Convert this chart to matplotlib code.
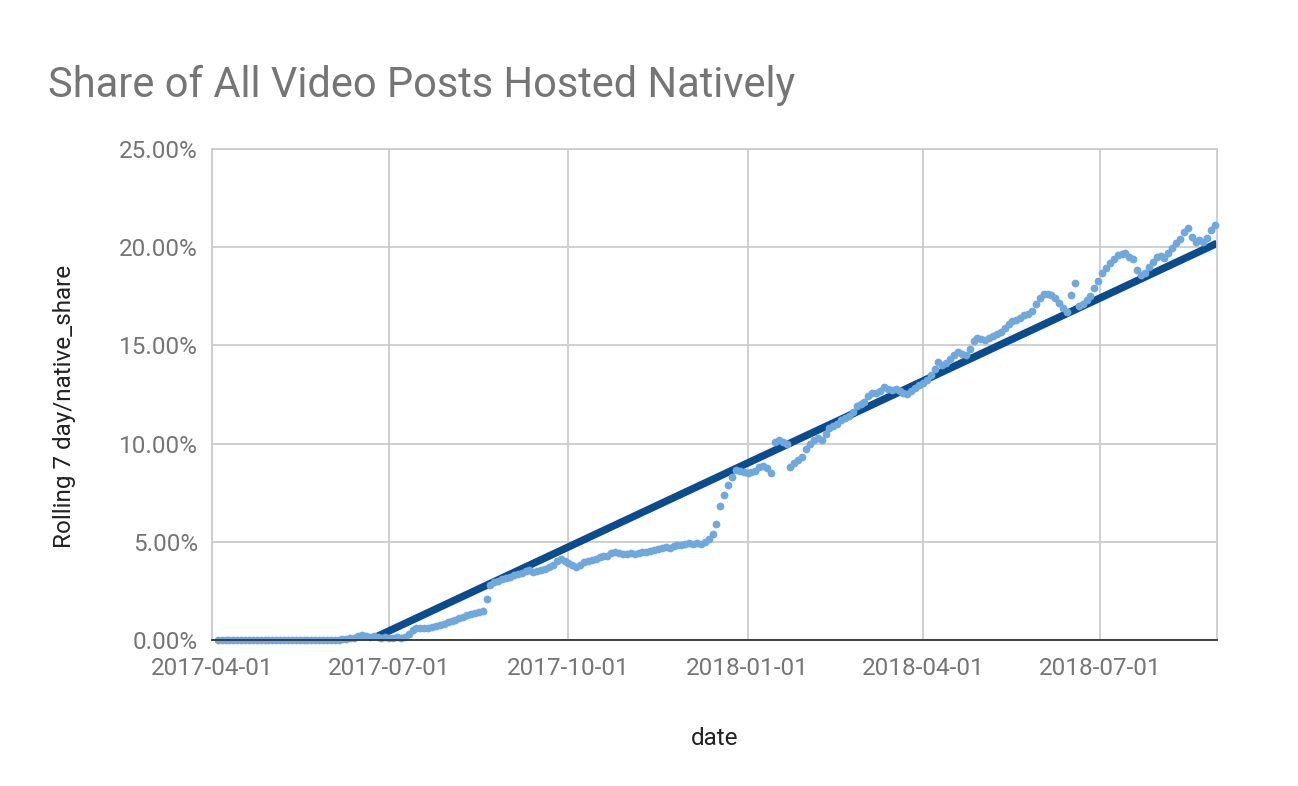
import numpy as np
import pandas as pd
from matplotlib import pyplot as plt
import matplotlib.dates as mdates
from matplotlib.ticker import FuncFormatter

plt.rcParams['font.family'] = ['Roboto', 'DejaVu Sans']

TITLE = 'Share of All Video Posts Hosted Natively'
X_LABEL = 'date'
Y_LABEL = 'Rolling 7 day/native_share'

# rolling 7 day native share (%), one reading every 2 days from first_day
first_day = '2017-04-04'
step_days = 2
native_share = [
    0.0, 0.0, 0.0, 0.0, 0.0, 0.0, 0.0, 0.0, 0.0, 0.0,
    0.0, 0.0, 0.0, 0.0, 0.0, 0.0, 0.0, 0.0, 0.0, 0.0,
    0.0, 0.0, 0.0, 0.0, 0.0, 0.0, 0.0, 0.0, 0.0, 0.0,
    0.0, 0.0, 0.05, 0.05, 0.1, 0.1, 0.2, 0.25, 0.2, 0.15,
    0.2, 0.15, 0.1, 0.15, 0.1, 0.1, 0.15, 0.1, 0.15, 0.3,
    0.5, 0.6, 0.6, 0.6, 0.6, 0.65, 0.7, 0.75, 0.8, 0.9,
    0.95, 1.0, 1.1, 1.15, 1.25, 1.3, 1.35, 1.4, 1.5, 2.1,
    2.8, 2.95, 3.0, 3.1, 3.15, 3.2, 3.3, 3.35, 3.4, 3.5,
    3.55, 3.45, 3.5, 3.55, 3.6, 3.7, 3.8, 4.0, 4.1, 4.0,
    3.9, 3.8, 3.7, 3.8, 3.95, 4.0, 4.05, 4.1, 4.2, 4.3,
    4.3, 4.45, 4.5, 4.45, 4.4, 4.4, 4.45, 4.4, 4.45, 4.5,
    4.5, 4.55, 4.6, 4.65, 4.7, 4.75, 4.7, 4.8, 4.85, 4.85,
    4.9, 4.95, 4.9, 4.95, 4.9, 5.0, 5.15, 5.4, 5.9, 6.8,
    7.4, 7.9, 8.3, 8.65, 8.6, 8.55, 8.5, 8.55, 8.6, 8.8,
    8.85, 8.75, 8.5, 10.1, 10.2, 10.1, 10.0, 8.8, 9.0, 9.15,
    9.3, 9.7, 10.0, 10.2, 10.3, 10.2, 10.5, 10.8, 10.9, 11.0,
    11.2, 11.3, 11.4, 11.6, 11.9, 12.0, 12.1, 12.4, 12.6, 12.6,
    12.7, 12.9, 12.8, 12.75, 12.8, 12.7, 12.6, 12.55, 12.7, 12.85,
    13.0, 13.1, 13.25, 13.5, 13.8, 14.15, 14.0, 14.1, 14.3, 14.5,
    14.65, 14.55, 14.5, 14.8, 15.2, 15.4, 15.35, 15.3, 15.4, 15.5,
    15.6, 15.7, 15.9, 16.1, 16.25, 16.3, 16.4, 16.55, 16.6, 16.75,
    17.1, 17.4, 17.6, 17.6, 17.55, 17.4, 17.15, 16.9, 16.7, 17.55,
    18.2, 17.0, 17.1, 17.3, 17.5, 17.9, 18.3, 18.7, 18.95, 19.2,
    19.4, 19.6, 19.65, 19.7, 19.5, 19.4, 18.85, 18.6, 18.7, 19.0,
    19.25, 19.5, 19.55, 19.45, 19.7, 19.95, 20.2, 20.4, 20.75, 21.0,
    20.5, 20.25, 20.35, 20.25, 20.45, 20.9, 21.15,
]

# linear trendline, read at where it leaves the axis and at the right edge
trend_dates = ['2017-06-21', '2018-08-30']
trend_values = [0.0, 20.2]

x_ticks = ['2017-04-01', '2017-07-01', '2017-10-01', '2018-01-01', '2018-04-01', '2018-07-01']
x_limits = ['2017-04-01', '2018-08-30']
y_ticks = [0, 5, 10, 15, 20, 25]

LIGHT_BLUE = '#6fa8dc'
DARK_BLUE = '#0b4c8f'
GRID = '#cccccc'
GRAY_TEXT = '#757575'
DARK_TEXT = '#222222'
FONTSIZE = 17.5
FONTSIZE_TITLE = 30


def plot_share():
    dates = pd.date_range(first_day, periods=len(native_share), freq=f'{step_days}D')

    fig = plt.figure(figsize=(12.98, 7.86), dpi=100)
    ax = fig.add_axes([0.1633, 0.1858, 0.9376 - 0.1633, 0.8104 - 0.1858])

    ax.plot(pd.to_datetime(trend_dates), trend_values, color=DARK_BLUE, lw=5.4,
            solid_capstyle='butt', zorder=2)
    ax.plot(dates, native_share, ls='none', marker='o', ms=5.6, mew=0,
            color=LIGHT_BLUE, zorder=3, clip_on=False)

    ax.set_xlim(pd.to_datetime(x_limits[0]), pd.to_datetime(x_limits[1]))
    ax.set_ylim(0, 25)
    ax.set_xticks(pd.to_datetime(x_ticks))
    ax.xaxis.set_major_formatter(mdates.DateFormatter('%Y-%m-%d'))
    ax.set_yticks(y_ticks)
    ax.yaxis.set_major_formatter(FuncFormatter(lambda v, _: f'{v:.2f}%'))

    ax.grid(True, color=GRID, lw=1.3)
    ax.set_axisbelow(True)
    for side in ['left', 'top', 'right']:
        ax.spines[side].set_color(GRID)
        ax.spines[side].set_linewidth(1.3)
    ax.spines['bottom'].set_color('#333333')
    ax.spines['bottom'].set_linewidth(1.3)
    ax.spines['bottom'].set_zorder(4)

    ax.tick_params(axis='both', length=0, labelsize=FONTSIZE, colors=GRAY_TEXT)
    ax.tick_params(axis='y', pad=10)
    ax.tick_params(axis='x', pad=12)

    ax.set_xlabel(X_LABEL, fontsize=FONTSIZE, color=DARK_TEXT, va='center')
    ax.xaxis.set_label_coords(0.5, -0.2)
    ax.set_ylabel(Y_LABEL, fontsize=FONTSIZE, color=DARK_TEXT, va='center')
    ax.yaxis.set_label_coords(-0.147, 0.475)

    fig.text(48 / 1298, 1 - 85 / 786, TITLE, fontsize=FONTSIZE_TITLE, color=GRAY_TEXT,
             ha='left', va='center')

    fig.savefig('out.png', dpi=100)


if __name__ == "__main__":
    plot_share()
